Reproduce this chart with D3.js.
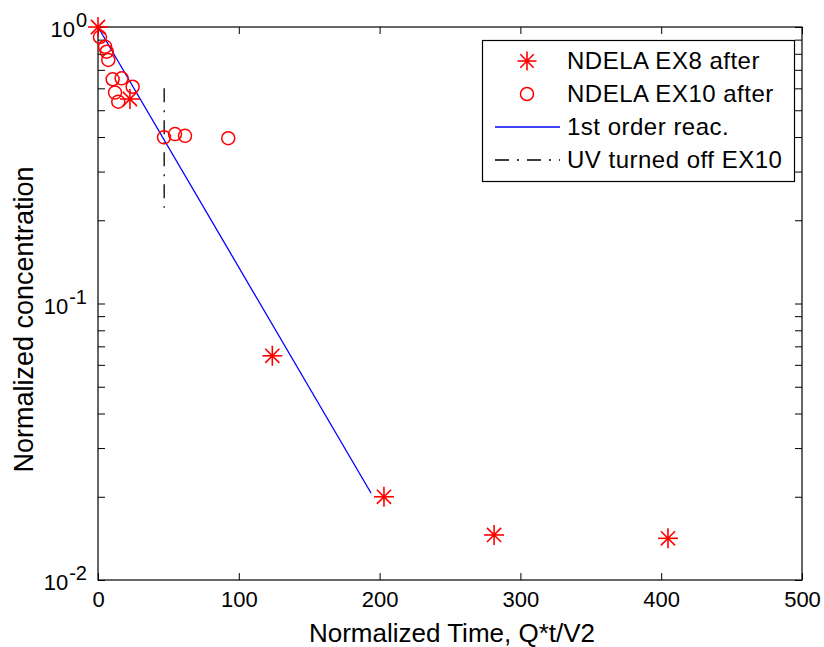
<!DOCTYPE html>
<html><head><meta charset="utf-8">
<script src="https://cdn.jsdelivr.net/npm/d3@7/dist/d3.min.js"></script>
<style>
html,body{margin:0;padding:0;background:#fff;}
svg{display:block;font-family:"Liberation Sans",Arial,Helvetica,sans-serif;}
</style></head>
<body>
<svg id="chart" width="824" height="647"></svg>
<script>
// ---- data ----
const ex8X = [0, 22.7, 123.8, 203.1, 281.3, 404.8];
const ex8Y = [1.0, 0.549, 0.0647, 0.0200, 0.01455, 0.01415];
const ex10X = [1.4, 5.0, 6.2, 7.3, 10.4, 16.8, 12.1, 14.4, 24.6, 46.9, 54.7, 61.8, 92.5];
const ex10Y = [0.92, 0.849, 0.814, 0.76, 0.647, 0.652, 0.579, 0.537, 0.608, 0.399, 0.410, 0.404, 0.396];
const fitX = [0, 194];
const fitY = [1.0, 0.0206];
const uvX = [47, 47];
const uvY = [0.60, 0.222];
const xTicks = [0, 100, 200, 300, 400, 500];
const xTickLabels = ["0", "100", "200", "300", "400", "500"];
const yMajor = [0.01, 0.1, 1];
const yMajorExp = ["-2", "-1", "0"];
const yMinor = [0.02,0.03,0.04,0.05,0.06,0.07,0.08,0.09,0.2,0.3,0.4,0.5,0.6,0.7,0.8,0.9];
const legendLabels = ["NDELA EX8 after", "NDELA EX10 after", "1st order reac.", "UV turned off EX10"];
const xLabel = "Normalized Time, Q*t/V2";
const yLabel = "Normalized concentration";

// ---- layout ----
const L = 98, R = 802, T = 27, B = 580;
const svg = d3.select("#chart");
const x = d3.scaleLinear().domain([0, 500]).range([L, R]);
const y = d3.scaleLog().domain([0.01, 1]).range([B, T]);

// axes (inward ticks)
const tickLen = 7;
const gB = svg.append("g").attr("transform", `translate(0,${B})`)
  .call(d3.axisBottom(x).tickValues(xTicks).tickSizeInner(-tickLen).tickSizeOuter(0)
    .tickPadding(11).tickFormat((d,i) => xTickLabels[i]));
const gT = svg.append("g").attr("transform", `translate(0,${T})`)
  .call(d3.axisTop(x).tickValues(xTicks).tickSizeInner(-tickLen).tickSizeOuter(0).tickFormat(""));
const allY = yMinor.concat(yMajor);
const gL = svg.append("g").attr("transform", `translate(${L},0)`)
  .call(d3.axisLeft(y).tickValues(allY).tickSizeInner(-tickLen).tickSizeOuter(0).tickFormat(""));
const gR = svg.append("g").attr("transform", `translate(${R},0)`)
  .call(d3.axisRight(y).tickValues(allY).tickSizeInner(-tickLen).tickSizeOuter(0).tickFormat(""));
[gB, gT, gL, gR].forEach(g => {
  g.select(".domain").remove();
  g.selectAll("line").attr("stroke", "#000").attr("stroke-width", 1);
  g.selectAll("text").attr("font-family", "Liberation Sans, Arial, sans-serif")
    .attr("font-size", 22).attr("fill", "#000");
});

// box
svg.append("rect").attr("x", L).attr("y", T).attr("width", R - L).attr("height", B - T)
  .attr("fill", "none").attr("stroke", "#000").attr("stroke-width", 1.2);

// y tick labels with superscript
yMajor.forEach((v, i) => {
  const t = svg.append("text").attr("x", 87).attr("y", y(v) + 10)
    .attr("text-anchor", "end").attr("font-size", 22).attr("fill", "#000");
  t.append("tspan").text("10");
  t.append("tspan").attr("font-size", 20).attr("dy", -10).attr("dx", 1).text(yMajorExp[i]);
});

// axis labels
svg.append("text").attr("x", (L + R) / 2 + 2).attr("y", 642).attr("text-anchor", "middle")
  .attr("font-size", 26).attr("fill", "#000").text(xLabel);
svg.append("text").attr("transform", `translate(33,${(T + B) / 2 + 16}) rotate(-90)`)
  .attr("text-anchor", "middle").attr("font-size", 27).attr("fill", "#000").text(yLabel);

// markers
function star(g, cx, cy, r) {
  const s = g.append("g").attr("transform", `translate(${cx},${cy})`)
    .attr("stroke", "#ff0000").attr("stroke-width", 1.6);
  for (let k = 0; k < 4; k++) {
    const a = k * Math.PI / 4;
    s.append("line").attr("x1", -r * Math.cos(a)).attr("y1", -r * Math.sin(a))
      .attr("x2", r * Math.cos(a)).attr("y2", r * Math.sin(a));
  }
  s.append("circle").attr("r", 2).attr("fill", "#ff0000").attr("stroke", "none");
}
const plot = svg.append("g");

// fitted line
plot.append("path").datum(d3.zip(fitX, fitY))
  .attr("d", d3.line().x(d => x(d[0])).y(d => y(d[1])))
  .attr("fill", "none").attr("stroke", "#0000ff").attr("stroke-width", 1.3);
// UV off line
plot.append("path").datum(d3.zip(uvX, uvY))
  .attr("d", d3.line().x(d => x(d[0])).y(d => y(d[1])))
  .attr("fill", "none").attr("stroke", "#000").attr("stroke-width", 1.3)
  .attr("stroke-dasharray", "14,8,2,8");

// EX10 circles
d3.zip(ex10X, ex10Y).forEach(d => {
  plot.append("circle").attr("cx", x(d[0])).attr("cy", y(d[1])).attr("r", 6.5)
    .attr("fill", "none").attr("stroke", "#ff0000").attr("stroke-width", 1.5);
});
// EX8 stars
d3.zip(ex8X, ex8Y).forEach(d => star(plot, x(d[0]), y(d[1]), 10));

// legend
const lg = svg.append("g");
lg.append("rect").attr("x", 482.5).attr("y", 40.5).attr("width", 312).attr("height", 141)
  .attr("fill", "#fff").attr("stroke", "#000").attr("stroke-width", 1.2);
const rowsY = [61, 94, 127, 160];
star(lg, 527, rowsY[0], 9.5);
lg.append("circle").attr("cx", 527).attr("cy", rowsY[1]).attr("r", 6.5)
  .attr("fill", "none").attr("stroke", "#ff0000").attr("stroke-width", 1.5);
lg.append("line").attr("x1", 495).attr("x2", 560).attr("y1", rowsY[2]).attr("y2", rowsY[2])
  .attr("stroke", "#0000ff").attr("stroke-width", 1.3);
lg.append("line").attr("x1", 495).attr("x2", 560).attr("y1", rowsY[3]).attr("y2", rowsY[3])
  .attr("stroke", "#000").attr("stroke-width", 1.3).attr("stroke-dasharray", "14,8,2,8");
legendLabels.forEach((s, i) => {
  lg.append("text").attr("x", 567).attr("y", rowsY[i] + 8).attr("font-size", 24)
    .attr("letter-spacing", 0.5).attr("fill", "#000").text(s);
});
</script>
</body></html>
